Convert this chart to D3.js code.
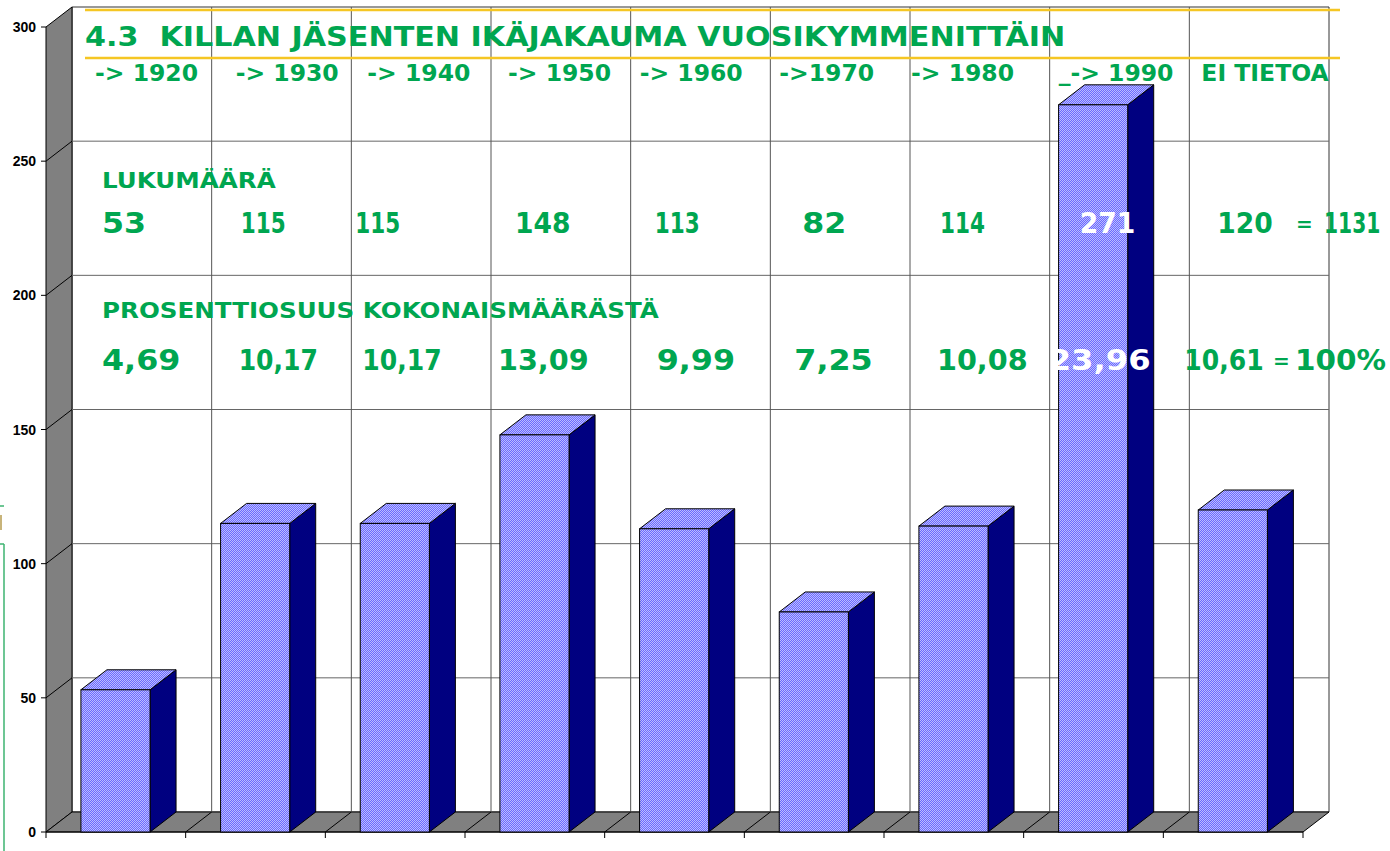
<!DOCTYPE html>
<html>
<head>
<meta charset="utf-8">
<script src="https://cdn.jsdelivr.net/npm/d3@7"></script>
<style>
  body { margin: 0; background: #fff; }
  svg { display: block; }
</style>
</head>
<body>
<script>
const width = 1390
const height = 851

// data
const categories = ['-> 1920', '-> 1930', '-> 1940', '-> 1950', '-> 1960', '->1970', '-> 1980', '_-> 1990', 'EI TIETOA']
const counts = [53, 115, 115, 148, 113, 82, 114, 271, 120]
const percents = ['4,69', '10,17', '10,17', '13,09', '9,99', '7,25', '10,08', '23,96', '10,61']
const total = '1131'
const totalPct = '100%'
const yTicks = [0, 50, 100, 150, 200, 250, 300]
const title = '4.3  KILLAN JÄSENTEN IKÄJAKAUMA VUOSIKYMMENITTÄIN'
const countHead = 'LUKUMÄÄRÄ'
const pctHead = 'PROSENTTIOSUUS KOKONAISMÄÄRÄSTÄ'

// hand placed text nudges (from band start), the labels in the original are free text boxes
const catDx = [49, 50, 42, 43, 35, 35, 27, 35, 38]
const countDx = [56, 55, 30, 50, 50, 58, 56, 56, 54]
const pctDx = [56, 53, 37, 33, 52, 50, 53, 25, 21]

const green = '#00a650'
const depth = { x: 26, y: -20 }

const x = d3.scaleBand().domain(categories).range([46, 1303]).paddingInner(0).paddingOuter(0)
const y = d3.scaleLinear().domain([0, 300]).range([832, 27])

const svg = d3.select('body').append('svg').attr('width', width).attr('height', height)

const defs = svg.append('defs')
const pat = defs.append('pattern')
  .attr('id', 'dither')
  .attr('patternUnits', 'userSpaceOnUse')
  .attr('width', 2).attr('height', 2)
pat.append('rect').attr('width', 2).attr('height', 2).attr('fill', '#6a6aff')
pat.append('rect').attr('width', 1).attr('height', 1).attr('fill', '#bcbcff')
pat.append('rect').attr('x', 1).attr('y', 1).attr('width', 1).attr('height', 1).attr('fill', '#bcbcff')

const pts = p => p.map(d => d.join(',')).join(' ')
const x0 = x.range()[0], x1 = x.range()[1]
const yTop = y(300), yBase = y(0)

// walls and floor
svg.append('polygon')
  .attr('points', pts([[x0 + depth.x, yTop + depth.y], [x1 + depth.x, yTop + depth.y], [x1 + depth.x, yBase + depth.y], [x0 + depth.x, yBase + depth.y]]))
  .attr('fill', '#fff').attr('stroke', '#333').attr('stroke-width', 1)

svg.append('polygon')
  .attr('points', pts([[x0, yTop], [x0 + depth.x, yTop + depth.y], [x0 + depth.x, yBase + depth.y], [x0, yBase]]))
  .attr('fill', '#808080').attr('stroke', '#000').attr('stroke-width', 1)

svg.append('polygon')
  .attr('points', pts([[x0, yBase], [x0 + depth.x, yBase + depth.y], [x1 + depth.x, yBase + depth.y], [x1, yBase]]))
  .attr('fill', '#808080').attr('stroke', '#000').attr('stroke-width', 1)

// gridlines
const grid = svg.append('g')
yTicks.filter(v => v > 0 && v < 300).forEach(v => {
  grid.append('line')
    .attr('x1', x0 + depth.x).attr('x2', x1 + depth.x)
    .attr('y1', y(v) + depth.y).attr('y2', y(v) + depth.y)
    .attr('stroke', '#666')
  grid.append('line')
    .attr('x1', x0).attr('x2', x0 + depth.x)
    .attr('y1', y(v)).attr('y2', y(v) + depth.y)
    .attr('stroke', '#000')
})
categories.slice(1).forEach(c => {
  const bx = x(c)
  grid.append('line')
    .attr('x1', bx + depth.x).attr('x2', bx + depth.x)
    .attr('y1', yTop + depth.y).attr('y2', yBase + depth.y)
    .attr('stroke', '#555')
  grid.append('line')
    .attr('x1', bx).attr('x2', bx + depth.x)
    .attr('y1', yBase).attr('y2', yBase + depth.y)
    .attr('stroke', '#000')
})

// y axis
const yAxis = svg.append('g')
yTicks.forEach(v => {
  yAxis.append('line')
    .attr('x1', x0 - 5).attr('x2', x0)
    .attr('y1', y(v)).attr('y2', y(v))
    .attr('stroke', '#000')
  yAxis.append('text')
    .attr('x', x0 - 10).attr('y', y(v) + 5)
    .attr('text-anchor', 'end')
    .attr('font-family', 'Liberation Sans, Arial, sans-serif')
    .attr('font-weight', 'bold')
    .attr('font-size', 14)
    .text(v)
})
svg.append('line')
  .attr('x1', x0).attr('x2', x1).attr('y1', yBase).attr('y2', yBase)
  .attr('stroke', '#000')
categories.concat(['end']).forEach((c, i) => {
  const bx = x0 + i * x.bandwidth()
  svg.append('line')
    .attr('x1', bx).attr('x2', bx).attr('y1', yBase).attr('y2', yBase + 6)
    .attr('stroke', '#000')
})

// bars
const barOff = x.bandwidth() * 0.25
const barW = x.bandwidth() * 0.495
const bars = svg.selectAll('g.bar')
  .data(categories.map((c, i) => ({ c, v: counts[i] })))
  .join('g')
  .attr('class', 'bar')

bars.append('polygon')
  .attr('points', d => {
    const l = x(d.c) + barOff, r = l + barW, t = y(d.v)
    return pts([[r, t], [r + depth.x, t + depth.y], [r + depth.x, yBase + depth.y], [r, yBase]])
  })
  .attr('fill', '#000080').attr('stroke', '#000').attr('stroke-width', 1)

bars.append('polygon')
  .attr('points', d => {
    const l = x(d.c) + barOff, r = l + barW, t = y(d.v)
    return pts([[l, t], [l + depth.x, t + depth.y], [r + depth.x, t + depth.y], [r, t]])
  })
  .attr('fill', 'url(#dither)').attr('stroke', '#000').attr('stroke-width', 1)

bars.append('rect')
  .attr('x', d => x(d.c) + barOff)
  .attr('y', d => y(d.v))
  .attr('width', barW)
  .attr('height', d => yBase - y(d.v))
  .attr('fill', 'url(#dither)').attr('stroke', '#000').attr('stroke-width', 1)

// texts
function stretch(sel, k) {
  sel.each(function () {
    const w = this.getComputedTextLength()
    d3.select(this).attr('textLength', w * k).attr('lengthAdjust', 'spacingAndGlyphs')
  })
}
// the original font has narrow ones, so numbers get a width from a rough metric of it
function numWidth(s, fs, dEm) {
  let w = 0
  for (const ch of String(s)) {
    if (ch === '1') w += dEm * 0.52
    else if (ch === ',') w += 0.28
    else if (ch === '%') w += dEm * 1.35
    else w += dEm
  }
  return w * fs
}
const txt = svg.append('g')
  .attr('font-family', 'DejaVu Sans, Verdana, sans-serif')
  .attr('font-weight', 'bold')

txt.append('text')
  .attr('x', 85).attr('y', 46)
  .attr('font-size', 26).attr('fill', green)
  .style('white-space', 'pre')
  .text(title)
  .call(stretch, 1.16)

txt.selectAll('text.cat')
  .data(categories)
  .join('text')
  .attr('class', 'cat')
  .attr('x', (d, i) => x(d) + catDx[i])
  .attr('y', 81)
  .attr('font-size', 23.5)
  .attr('fill', green)
  .text(d => d)

txt.append('text')
  .attr('x', 102).attr('y', 188)
  .attr('font-size', 21).attr('fill', green)
  .text(countHead)
  .call(stretch, 1.17)

txt.append('text')
  .attr('x', 102).attr('y', 318)
  .attr('font-size', 21).attr('fill', green)
  .text(pctHead)
  .call(stretch, 1.17)

const countBase = 233
const pctBase = 370
const countFs = 29, pctFs = 28

txt.selectAll('text.count')
  .data(counts)
  .join('text')
  .attr('class', 'count')
  .attr('x', (d, i) => x(categories[i]) + countDx[i])
  .attr('y', countBase)
  .attr('font-size', countFs)
  .attr('fill', d => y(d) < countBase - 22 ? '#fff' : green)
  .attr('textLength', d => numWidth(d, countFs, 0.76))
  .attr('lengthAdjust', 'spacingAndGlyphs')
  .text(d => d)

txt.append('text')
  .attr('x', x1 - 7).attr('y', countBase - 2)
  .attr('font-size', 20).attr('fill', green)
  .text('=')

// total sits at the right edge: draw it narrow and stretch it tall so its box stays inside
const totalW = numWidth(total, countFs, 0.76)
const totalFs = totalW / (total.length * 0.696)
txt.append('text')
  .attr('transform', `translate(${x1 + 21},${countBase}) scale(1,${countFs / totalFs})`)
  .attr('font-size', totalFs).attr('fill', green)
  .text(total)

txt.selectAll('text.pct')
  .data(percents)
  .join('text')
  .attr('class', 'pct')
  .attr('x', (d, i) => x(categories[i]) + pctDx[i])
  .attr('y', pctBase)
  .attr('font-size', pctFs)
  .attr('fill', (d, i) => y(counts[i]) < pctBase - 20 ? '#fff' : green)
  .attr('textLength', d => numWidth(d, pctFs, 0.84))
  .attr('lengthAdjust', 'spacingAndGlyphs')
  .text(d => d)

txt.append('text')
  .attr('x', x1 - 30).attr('y', pctBase - 2)
  .attr('font-size', 20).attr('fill', green)
  .text('=')
txt.append('text')
  .attr('x', x1 - 8).attr('y', pctBase)
  .attr('font-size', pctFs).attr('fill', green)
  .attr('textLength', numWidth(totalPct, pctFs, 0.84))
  .attr('lengthAdjust', 'spacingAndGlyphs')
  .text(totalPct)

// yellow rules around the title
;[10, 58].forEach(yy => {
  svg.append('line')
    .attr('x1', 85).attr('x2', 1340)
    .attr('y1', yy).attr('y2', yy)
    .attr('stroke', '#f5c623').attr('stroke-width', 2.5)
})

// bits of a neighbouring object cut at the left edge
const edge = svg.append('g').attr('stroke', '#3cb371').attr('stroke-width', 1.5)
edge.append('line').attr('x1', 0).attr('x2', 4).attr('y1', 506).attr('y2', 506)
edge.append('line').attr('x1', 0).attr('x2', 4).attr('y1', 544).attr('y2', 544)
edge.append('line').attr('x1', 4).attr('x2', 4).attr('y1', 544).attr('y2', 851)
svg.append('rect').attr('x', 0).attr('y', 515).attr('width', 2).attr('height', 15).attr('fill', '#c8b47a')
</script>
</body>
</html>
